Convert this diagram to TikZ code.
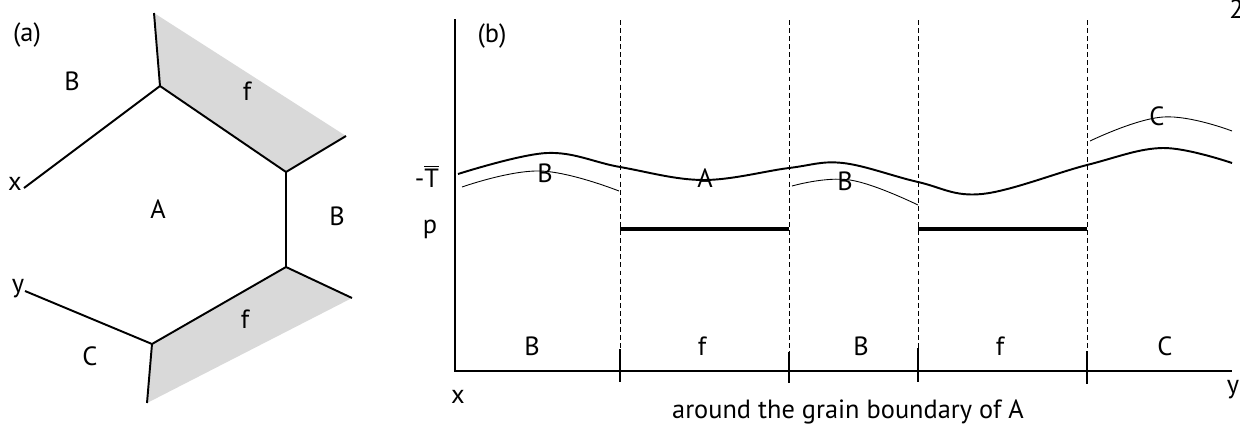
\documentclass[tikz,border=0pt]{standalone}
\usepackage{fontspec}
\setmainfont{PT Sans}
\usepackage{tikz}
\usepackage{xcolor}
\definecolor{ink}   {HTML}{000000}
\definecolor{fshade}{HTML}{D9D9D9}
\tikzset{
  gbline/.style  ={draw=ink, line width=1.1pt, line join=round},
  thinline/.style={draw=ink, line width=0.5pt},
  axisline/.style={draw=ink, line width=1.3pt},
  guide/.style   ={draw=ink, line width=0.5pt, dash pattern=on 2.8pt off 1.8pt},
  plateau/.style ={draw=ink, line width=2pt},
  tickmark/.style={draw=ink, line width=1.1pt},
  lbl/.style     ={font=\fontsize{15}{18}\selectfont, inner sep=0pt, anchor=base},
}

\begin{document}
\begin{tikzpicture}[x=0.02cm,y=-0.02cm]
    \useasboundingbox (0,0) rectangle (1240,423);

    % (a) grain junctions
    \coordinate (xend) at (24,188);
    \coordinate (yend) at (25,291);
    \coordinate (jtop) at (160,86);
    \coordinate (jmid) at (286,172);
    \coordinate (jlow) at (286,267);
    \coordinate (jbot) at (152,344);
    \coordinate (ftopa) at (154,13);
    \coordinate (ftopb) at (346,136);
    \coordinate (fbota) at (352,298);
    \coordinate (fbotb) at (147,403);

    \fill[fshade] (ftopa) -- (jtop) -- (jmid) -- (ftopb) -- cycle;
    \fill[fshade] (jbot) -- (jlow) -- (fbota) -- (fbotb) -- cycle;
    \draw[gbline] (xend) -- (jtop) -- (jmid) -- (jlow) -- (jbot) -- (yend);
    \draw[gbline] (ftopa) -- (jtop);
    \draw[gbline] (jmid) -- (ftopb);
    \draw[gbline] (jlow) -- (fbota);
    \draw[gbline] (jbot) -- (fbotb);

    \node[lbl] (capa) at (27,41) {(a)};
    \node[lbl] (aB1) at (72,90) {B};
    \node[lbl] (af1) at (247,100) {f};
    \node[lbl] (aA)  at (158,218) {A};
    \node[lbl] (aB2) at (337,225) {B};
    \node[lbl] (ax)  at (15,190) {x};
    \node[lbl] (ay)  at (18,292) {y};
    \node[lbl] (af2) at (245,328) {f};
    \node[lbl] (aC)  at (90,365) {C};

    % (b) axes and segment guides
    \draw[axisline] (455,19) -- (455,371) -- (1232,371);
    \draw[guide] (620,20) -- (620,349);
    \draw[guide] (789,20) -- (789,352);
    \draw[guide] (918,20) -- (918,348);
    \draw[guide] (1087,20) -- (1087,351);
    \draw[tickmark] (620,349) -- (620,382);
    \draw[tickmark] (789,352) -- (789,383);
    \draw[tickmark] (918,348) -- (918,382);
    \draw[tickmark] (1087,351) -- (1087,384);

    % temperature along the boundary
    \draw[gbline] plot[smooth, tension=0.6] coordinates
      {(458,174) (547,153) (620,167) (703,180) (789,168) (843,163)
       (918,182) (982,194) (1087,165) (1163,148) (1232,163)};
    \draw[thinline] plot[smooth, tension=0.7] coordinates
      {(462,187) (540,171) (619,191)};
    \draw[thinline] plot[smooth, tension=0.7] coordinates
      {(792,186) (850,180) (918,205)};
    \draw[thinline] plot[smooth, tension=0.7] coordinates
      {(1090,141) (1163,117) (1232,131)};
    \draw[plateau] (620,229) -- (789,229);
    \draw[plateau] (918,229) -- (1087,229);

    \node[lbl] (capb) at (492,42) {(b)};
    \node[lbl] (tlvl) at (427,187) {-$\overline{\hbox{T}}$};
    \node[lbl] (plvl) at (430,233) {p};
    \node[lbl] (cB1) at (545,182) {B};
    \node[lbl] (cA)  at (705,187) {A};
    \node[lbl] (cB2) at (845,190) {B};
    \node[lbl] (cC)  at (1157,125) {C};

    \node[lbl] (sB1) at (532,355) {B};
    \node[lbl] (sf1) at (702,355) {f};
    \node[lbl] (sB2) at (861,355) {B};
    \node[lbl] (sf2) at (1000,355) {f};
    \node[lbl] (sC)  at (1165,355) {C};

    \node[lbl] (bx) at (458,403) {x};
    \node[lbl] (by) at (1233,393) {y};
    \node[lbl] (bcap) at (848,418) {around the grain boundary of A};
    \node[lbl,anchor=base west] (pgno) at (1229,18) {2};
  \end{tikzpicture}
\end{document}
